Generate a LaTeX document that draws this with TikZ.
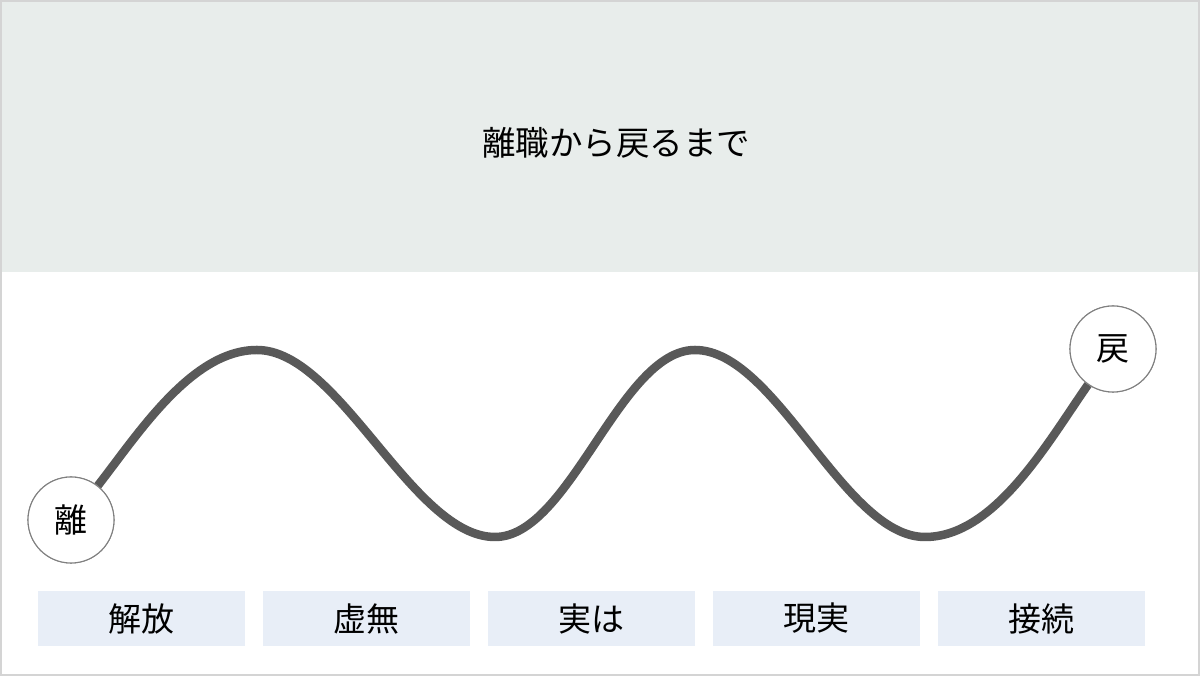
\documentclass[tikz,border=0pt]{standalone}
\usepackage{fontspec}
\setmainfont{Noto Sans CJK JP}
\usetikzlibrary{positioning}
\definecolor{bandgray}{HTML}{E8EDEB}
\definecolor{stageblue}{HTML}{E8EEF7}
\definecolor{wavegray}{HTML}{595959}
\definecolor{framegray}{HTML}{D4D4D4}
\begin{document}
\begin{tikzpicture}
    [%
        x=1pt,y=1pt,%
        title band/.style={%
            fill=bandgray%
        },%
        end point/.style={%
            draw=gray,%
            line width=1.1pt,%
            fill=white,%
            circle,%
            minimum size=86pt,%
            inner sep=0pt,%
            font=\fontsize{33}{40}\selectfont%
        },%
        stage/.style={%
            fill=stageblue,%
            minimum width=207pt,%
            minimum height=55pt,%
            inner sep=0pt,%
            font=\fontsize{33}{40}\selectfont%
        },%
        wave/.style={%
            draw=wavegray,%
            line width=8.5pt,%
            looseness=0.7%
        }%
    ]%
    \useasboundingbox (0,0) rectangle (1200,676);
%
    \fill[title band] (0,404) rectangle (1200,676);
    \node[font=\fontsize{33.5}{40}\selectfont] (title) at (616,533) {離職から戻るまで};
%
    % turning points of the wave
    \foreach \n/\x/\y in {%
        peak-1/257/326,%
        trough-1/495/139,%
        peak-2/695/326,%
        trough-2/925/139%
    }%
        \coordinate (\n) at (\x,\y);%
    % \foreach \n/\x/\y
    \node[end point] (leave) at (71,156) {};
    \node[end point] (return) at (1113,327) {};
    \draw[wave] (leave) to[out=52,in=180,looseness=0.8] (peak-1)
        to[out=0,in=180] (trough-1)
        to[out=0,in=180] (peak-2)
        to[out=0,in=180] (trough-2)
        to[out=0,in=235,looseness=0.8] (return);
    \node[end point] at (leave) {離};
    \node[end point] at (return) {戻};
%
    \foreach \k/\t in {1/解放,2/虚無,3/実は,4/現実,5/接続}
        \node[stage] (stage-\k) at ({141.5+225*(\k-1)},57.5) {\t};
%
    \draw[framegray,line width=2pt] (1,1) rectangle (1199,675);
\end{tikzpicture}
\end{document}
